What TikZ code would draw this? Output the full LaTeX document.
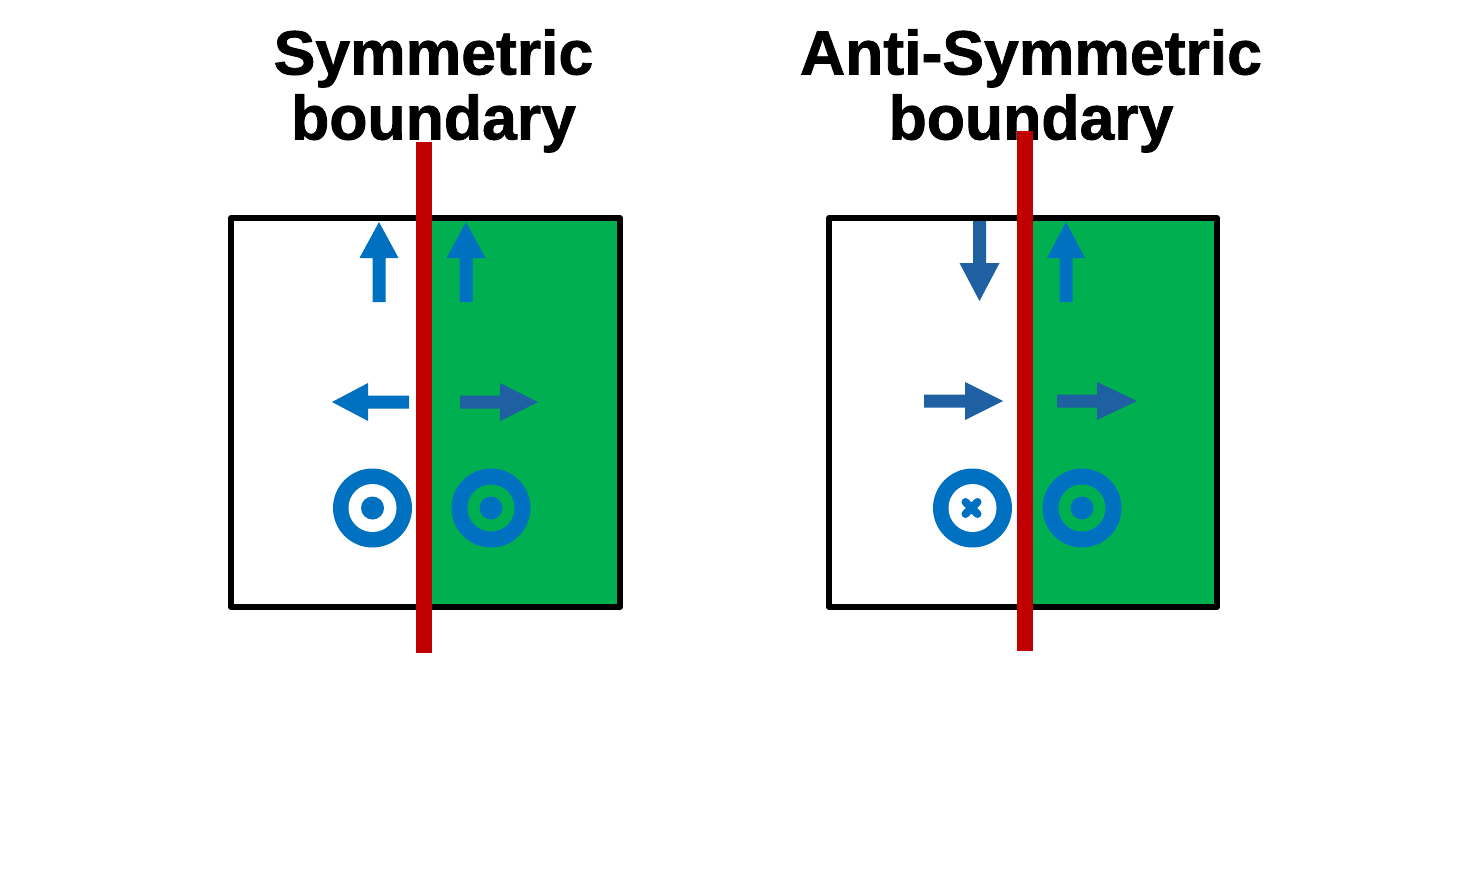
\documentclass[tikz,border=0pt]{standalone}
\usepackage{fontspec}
\setmainfont{Liberation Sans}
\newfontfamily\titlefont{Liberation Sans Bold}[FakeBold=1.3]
\definecolor{redl}{RGB}{192,0,0}
\definecolor{greenf}{RGB}{0,176,80}
\definecolor{bblue}{RGB}{0,112,192}
\definecolor{dblue}{RGB}{30,96,162}
\tikzset{
  boxline/.style={line width=6pt, line join=round},
  redline/.style={draw=redl, line width=16pt},
  title/.style={font=\fontsize{62.5}{65}\selectfont\titlefont, align=center, anchor=north, inner sep=0pt},
}
\begin{document}
\begin{tikzpicture}[x=1pt,y=-1pt]
\useasboundingbox (0,0) rectangle (1458,881);
\fill[white] (0,0) rectangle (1458,881);

% ---- left panel ----
\fill[greenf] (424,218) rectangle (620,607);
\draw[boxline] (231,218) rectangle (620,607);
% up arrows
\fill[bblue] (372.5,302) -- (372.5,258) -- (359.5,258) -- (379,222) -- (398.5,258) -- (385.5,258) -- (385.5,302) -- cycle;
\fill[bblue] (459.5,302) -- (459.5,258) -- (446.5,258) -- (466,222) -- (485.5,258) -- (472.5,258) -- (472.5,302) -- cycle;
% left arrow
\fill[bblue] (409,395.5) -- (368,395.5) -- (368,383) -- (332,402) -- (368,421) -- (368,408.5) -- (409,408.5) -- cycle;
% right arrow
\fill[dblue] (460,395.5) -- (500,395.5) -- (500,383) -- (538,402) -- (500,421) -- (500,408.5) -- (460,408.5) -- cycle;
% circles
\fill[bblue] (372.5,508) circle[radius=39.5];
\fill[white] (372.5,508) circle[radius=24];
\fill[bblue] (372.5,508) circle[radius=11.5];
\fill[bblue] (491,508) circle[radius=39.5];
\fill[greenf] (491,508) circle[radius=23.5];
\fill[bblue] (491,508) circle[radius=11.5];
% red line
\coordinate (l1) at (424,142);
\coordinate (l2) at (424,653);
\draw[redline] (l1) -- (l2);
\node[title] (t1) at (433.5,29) {Symmetric\\boundary};

% ---- right panel ----
\fill[greenf] (1025,218) rectangle (1217,607);
\draw[boxline] (829,218) rectangle (1217,607);
% down arrow
\fill[dblue] (973,221) -- (973,263) -- (959.5,263) -- (979.5,301) -- (999.5,263) -- (986,263) -- (986,221) -- cycle;
% up arrow
\fill[bblue] (1059.5,302) -- (1059.5,258) -- (1047,258) -- (1066,222) -- (1085,258) -- (1072.5,258) -- (1072.5,302) -- cycle;
% right arrows
\fill[dblue] (924,394.5) -- (965,394.5) -- (965,382) -- (1003,401) -- (965,420) -- (965,407.5) -- (924,407.5) -- cycle;
\fill[dblue] (1057,394.5) -- (1097,394.5) -- (1097,382) -- (1137,401) -- (1097,420) -- (1097,407.5) -- (1057,407.5) -- cycle;
% circles
\fill[bblue] (972.5,508) circle[radius=39.5];
\fill[white] (972.5,508) circle[radius=24];
\draw[bblue, line width=8pt, line cap=round] (965.5,502) -- (977.5,514) (965.5,514) -- (977.5,502);
\fill[bblue] (1082,508) circle[radius=39.5];
\fill[greenf] (1082,508) circle[radius=23.5];
\fill[bblue] (1082,508) circle[radius=11.5];
\node[title] (t2) at (1031,29) {Anti-Symmetric\\boundary};
% red line
\coordinate (r1) at (1025,131);
\coordinate (r2) at (1025,651);
\draw[redline] (r1) -- (r2);
\end{tikzpicture}
\end{document}
